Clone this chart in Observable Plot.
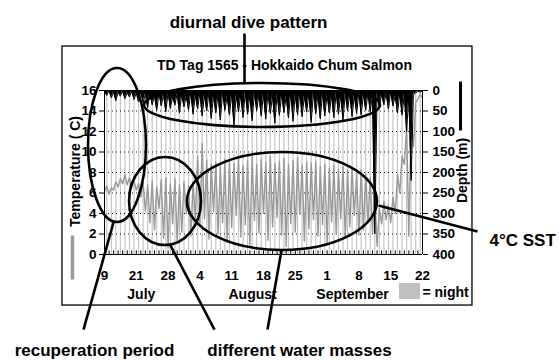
<!DOCTYPE html>
<html><head><meta charset="utf-8">
<script src="https://cdn.jsdelivr.net/npm/d3@7"></script>
<script src="https://cdn.jsdelivr.net/npm/@observablehq/plot@0.6"></script>
<style>body{margin:0;background:#fff}#chart svg{display:block}</style>
</head><body><div id="chart"></div>
<script>
// ---- data ----
const sampleStepDays = 0.5; // one reading every half day, day 0 = first tick
const temperatureC = [
  6.1, 6.7, 5.9, 6.5, 6.3, 7.1, 6.6, 7.4, 6.9, 7.8, 6.8, 7.5, 6.5, 7.1, 6.3, 6.9, 5.6,
  7.0, 4.2, 6.8, 3.1, 7.2, 2.4, 6.6, 4.5, 7.3, 1.6, 7.5, 0.6, 6.9, 3.0, 7.4, 1.2, 6.8, 2.2, 7.1, 4.0, 6.7, 1.8, 7.0, 3.4,
  9.6, 2.8, 10.8, 3.5, 9.2, 1.5, 8.8, 4.2, 9.0, 2.0, 8.6, 3.1, 9.3, 1.2, 9.1, 2.6, 8.9, 3.8, 9.4, 1.7,
  8.7, 2.9, 9.2, 0.9, 9.5, 3.3, 8.8, 2.1, 9.3, 4.0, 9.0, 1.4, 9.6, 2.7, 8.9, 3.6, 9.1, 1.9, 9.4, 0.8,
  8.8, 3.0, 9.2, 2.2, 9.5, 3.9, 8.7, 1.3, 9.0, 2.5, 8.9, 3.4, 9.1, 1.8, 8.6, 2.9, 8.8, 1.1, 8.4, 3.2,
  8.7, 2.0, 8.3, 3.5, 8.6, 1.6, 8.2, 2.7, 8.5, 3.8, 8.0, 1.9, 8.3, 2.4, 7.9, 3.1,
  7.5, 2.2, 6.0, 0.8, 4.5, 3.0, 5.2, 3.4, 4.8, 3.1, 5.6, 4.0, 7.8, 6.0, 9.6, 8.8, 12.5, 1.8, 13.2, 10.5, 14.8, 15.2, 15.6, 15.3
];
const depthM = [
  2, 12, 0, 18, 4, 25, 3, 14, 1, 20, 5, 16, 2, 22, 6, 28, 3,
  30, 8, 42, 5, 35, 12, 48, 6, 38, 10, 52, 4, 44, 15, 36, 7, 55, 9, 40, 13, 47, 5, 58, 11,
  45, 6, 62, 10, 50, 4, 68, 12, 55, 8, 72, 5, 48, 14, 60, 7, 85, 9, 52, 11,
  66, 4, 58, 13, 74, 6, 49, 10, 63, 8, 70, 5, 56, 12, 80, 7, 61, 9, 54, 14,
  67, 5, 75, 10, 59, 6, 64, 13, 52, 8, 78, 4, 57, 11, 69, 7, 62, 9, 55, 12,
  66, 5, 58, 10, 73, 6, 50, 8, 64, 11, 56, 4, 60, 9, 48, 7,
  52, 8, 350, 5, 40, 10, 35, 6, 45, 4, 38, 12, 55, 7, 60, 8, 100, 12, 220, 10, 6, 2, 4, 1
];
const nightDays = [0.5,1.5,2.5,3.5,4.5,5.5,6.5,7.5,8.5,9.5,10.5,11.5,12.5,13.5,14.5,15.5,16.5,17.5,18.5,19.5,
  20.5,21.5,22.5,23.5,24.5,25.5,26.5,27.5,28.5,29.5,30.5,31.5,32.5,33.5,34.5,35.5,36.5,37.5,38.5,39.5,
  40.5,41.5,42.5,43.5,44.5,45.5,46.5,47.5,48.5,49.5,50.5,51.5,52.5,53.5,54.5,55.5,56.5,57.5,58.5,59.5,
  60.5,61.5,62.5,63.5,64.5,65.5,66.5,67.5,68.5,69.5];
const dayTickPositions = [0, 7, 14, 21, 28, 35, 42, 49, 56, 63, 70];
const dayTickLabels = ["9", "21", "28", "4", "11", "18", "25", "1", "8", "15", "22"];
const monthNames = ["July", "August", "September"];
const tempTicks = [0, 2, 4, 6, 8, 10, 12, 14, 16];
const depthTicks = [0, 50, 100, 150, 200, 250, 300, 350, 400];
const gridTemps = [2, 4, 6, 8, 10, 12, 14];

// ---- layout (data units) ----
const maxT = 16, maxDepth = 400;
const depthToY = d => maxT - d * maxT / maxDepth;
const font = "'Liberation Sans', Arial, Helvetica, sans-serif";
const monthX = [8.1, 32.6, 54.6];
const ellipses = [
  {cx: 2.86, cy: 10.63, rx: 6.38, ry: 7.51},
  {cx: 34.78, cy: 14.54, rx: 25.97, ry: 2.15},
  {cx: 13.43, cy: 5.17, rx: 7.92, ry: 4.29},
  {cx: 39.18, cy: 5.17, rx: 20.91, ry: 4.78}
];
const pointers = [
  {x1: 30.82, y1: 21.56, x2: 30.82, y2: 16.68},
  {x1: -4.62, y1: -7.32, x2: 1.98, y2: 3.12},
  {x1: 24.21, y1: -7.32, x2: 14.53, y2: 0.88},
  {x1: 35.88, y1: -7.32, x2: 38.96, y2: 0.39},
  {x1: 60.31, y1: 4.78, x2: 82.1, y2: 2.24}
];

function ellipseMark(list) {
  return (index, scales, values, dimensions) => {
    const sx = scales.x, sy = scales.y;
    const g = d3.create("svg:g").attr("fill", "none").attr("stroke", "black").attr("stroke-width", 2.6);
    for (const e of list) {
      const cx = sx(e.cx), cy = sy(e.cy);
      g.append("ellipse").attr("cx", cx).attr("cy", cy)
        .attr("rx", Math.abs(sx(e.cx + e.rx) - cx))
        .attr("ry", Math.abs(sy(e.cy + e.ry) - cy));
    }
    return g.node();
  };
}

const chart = Plot.plot({
  width: 559, height: 360,
  marginLeft: 104, marginRight: 137, marginTop: 90, marginBottom: 106,
  x: {domain: [0, 70], axis: null},
  y: {domain: [0, maxT], axis: null},
  style: {fontFamily: font, fontWeight: "bold", fontSize: "13.5px", color: "black", background: "white", overflow: "visible"},
  marks: [
    Plot.rect([{x1: -9.25, x2: 81.0, y1: 20.29, y2: -4.98}], {x1: "x1", x2: "x2", y1: "y1", y2: "y2", fill: "none", stroke: "black", strokeWidth: 1.3}),
    Plot.ruleX(nightDays, {stroke: "#c6c6c6", strokeWidth: 1.2}),
    Plot.ruleY(gridTemps, {stroke: "black", strokeWidth: 0.9, strokeDasharray: "1,3"}),
    Plot.line(temperatureC, {x: (d, i) => i * sampleStepDays, y: d => d, stroke: "#999999", strokeWidth: 1.4}),
    Plot.areaY(depthM, {x: (d, i) => i * sampleStepDays, y1: maxT, y2: d => depthToY(d), fill: "black"}),
    Plot.line(depthM, {x: (d, i) => i * sampleStepDays, y: d => depthToY(d), stroke: "black", strokeWidth: 1}),
    Plot.ruleY([0], {stroke: "black", strokeWidth: 1}),
    Plot.ruleX([0, 70], {stroke: "black", strokeWidth: 1}),
    Plot.ruleX(d3.range(0, 71), {y1: 0, y2: 0.35, stroke: "black", strokeWidth: 1}),
    Plot.axisX(dayTickPositions, {anchor: "bottom", tickSize: 0, tickPadding: 16, label: null,
      tickFormat: d => dayTickLabels[dayTickPositions.indexOf(d)], fontSize: 13.5}),
    Plot.axisY(tempTicks, {anchor: "left", tickSize: 5, tickPadding: 3, label: null, fontSize: 13.5}),
    Plot.axisY(depthTicks.map(depthToY), {anchor: "right", tickSize: 5, tickPadding: 5, label: null, fontSize: 13.5,
      tickFormat: t => String(Math.round((maxT - t) * maxDepth / maxT))}),
    Plot.text(monthNames, {x: (d, i) => monthX[i], y: -3.9, text: d => d, fontSize: 14}),
    Plot.rect([{x1: 64.93, x2: 69.56, y1: -2.83, y2: -4.39}], {x1: "x1", x2: "x2", y1: "y1", y2: "y2", fill: "#c0c0c0"}),
    Plot.text(["= night"], {x: 70.0, y: -3.75, textAnchor: "start", fontSize: 14}),
    Plot.text(["TD Tag 1565 - Hokkaido Chum Salmon"], {x: 39.62, y: 18.44, fontSize: 14}),
    Plot.text(["Temperature ( C)"], {x: -6.38, y: 8.1, rotate: -90, fontSize: 14}),
    Plot.text(["Depth (m)"], {x: 78.8, y: 8.2, rotate: -90, fontSize: 14}),
    Plot.link([{x: -7.05, y1: 1.85, y2: -2.44}], {x1: "x", x2: "x", y1: "y1", y2: "y2", stroke: "#999999", strokeWidth: 3.5}),
    Plot.link([{x: 78.36, y1: 16.88, y2: 12.1}], {x1: "x", x2: "x", y1: "y1", y2: "y2", stroke: "black", strokeWidth: 3}),
    ellipseMark(ellipses),
    Plot.link(pointers, {x1: "x1", y1: "y1", x2: "x2", y2: "y2", stroke: "black", strokeWidth: 2.6}),
    Plot.text(["diurnal dive pattern"], {x: 31.7, y: 22.63, fontSize: 17}),
    Plot.text(["recuperation period"], {x: -2.2, y: -9.37, fontSize: 17}),
    Plot.text(["different water masses"], {x: 42.92, y: -9.37, fontSize: 17}),
    Plot.text(["4°C SST"], {x: 84.75, y: 1.37, textAnchor: "start", fontSize: 17})
  ]
});
document.getElementById("chart").appendChild(chart);
</script></body></html>
